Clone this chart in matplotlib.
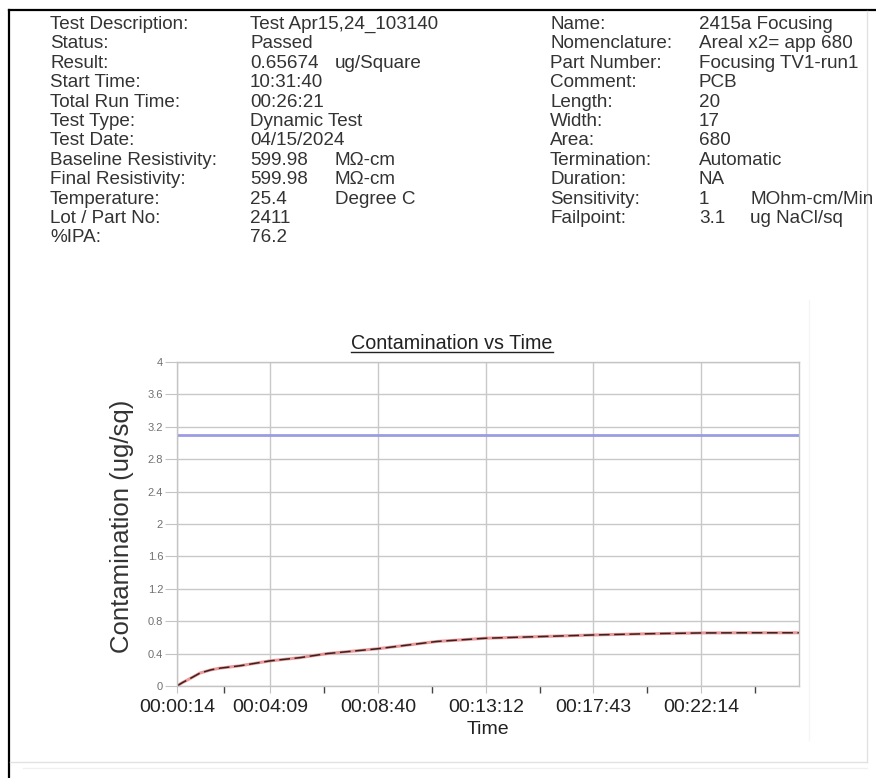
import matplotlib
matplotlib.use("Agg")
import matplotlib.pyplot as plt
from matplotlib.lines import Line2D

plt.rcParams['font.family'] = ['Liberation Sans', 'DejaVu Sans']

# ---------------- data ----------------
left_labels = ["Test Description:", "Status:", "Result:", "Start Time:", "Total Run Time:",
               "Test Type:", "Test Date:", "Baseline Resistivity:", "Final Resistivity:",
               "Temperature:", "Lot / Part No:", "%IPA:"]
left_values = ["Test Apr15,24_103140", "Passed", "0.65674", "10:31:40", "00:26:21",
               "Dynamic Test", "04/15/2024", "599.98", "599.98", "25.4", "2411", "76.2"]
left_units = ["", "", "ug/Square", "", "", "", "", "M\u03a9-cm", "M\u03a9-cm", "Degree C", "", ""]

right_labels = ["Name:", "Nomenclature:", "Part Number:", "Comment:", "Length:", "Width:",
                "Area:", "Termination:", "Duration:", "Sensitivity:", "Failpoint:"]
right_values = ["2415a Focusing", "Areal x2= app 680", "Focusing TV1-run1", "PCB", "20", "17",
                "680", "Automatic", "NA", "1", "3.1"]
right_units = ["", "", "", "", "", "", "", "", "", "MOhm-cm/Min", "ug NaCl/sq"]

time_s = [14, 27, 50, 72, 100, 122, 173, 248, 324, 392, 520, 669, 792, 928, 1063, 1200, 1334, 1450, 1581]
contam = [0.0, 0.04, 0.10, 0.16, 0.20, 0.22, 0.25, 0.31, 0.35, 0.40, 0.46, 0.55, 0.59, 0.61, 0.63, 0.645, 0.655, 0.657, 0.657]
failpoint = 3.1

x_major = [14, 249, 520, 792, 1063, 1334]
x_major_labels = ["00:00:14", "00:04:09", "00:08:40", "00:13:12", "00:17:43", "00:22:14"]
x_minor = [132, 385, 656, 928, 1199, 1470]
x_range = [14, 1581]
y_ticks = [0, 0.4, 0.8, 1.2, 1.6, 2, 2.4, 2.8, 3.2, 3.6, 4]
y_tick_labels = ["0", "0.4", "0.8", "1.2", "1.6", "2", "2.4", "2.8", "3.2", "3.6", "4"]

# ---------------- figure ----------------
W, H = 876, 778
fig = plt.figure(figsize=(W / 100, H / 100), dpi=100)
fig.patch.set_facecolor('white')

def fx(x):
    return x / W

def fy(y):
    return 1 - y / H

# frame
fig.add_artist(Line2D([fx(9), fx(9)], [fy(10), fy(790)], color='black', lw=1.6))
fig.add_artist(Line2D([fx(9), fx(890)], [fy(10), fy(10)], color='black', lw=1.6))
fig.add_artist(Line2D([fx(867), fx(867)], [fy(11), fy(762)], color='#e2e2e2', lw=1))
fig.add_artist(Line2D([fx(10), fx(867)], [fy(762), fy(762)], color='#e2e2e2', lw=1))
fig.add_artist(Line2D([fx(23), fx(867)], [fy(768), fy(768)], color='#f0f0f0', lw=1))
fig.add_artist(Line2D([fx(809), fx(809)], [fy(300), fy(740)], color='#f5f5f5', lw=1))

# header
hdr_size = 13.6
hdr_color = '#333333'
base0 = 29
step = 19.4
for i, (lab, val, unit) in enumerate(zip(left_labels, left_values, left_units)):
    yb = fy(base0 + i * step)
    fig.text(fx(50), yb, lab, fontsize=hdr_size, color=hdr_color, va='baseline')
    fig.text(fx(250), yb, val, fontsize=hdr_size, color=hdr_color, va='baseline')
    if unit:
        fig.text(fx(335), yb, unit, fontsize=hdr_size, color=hdr_color, va='baseline')
for i, (lab, val, unit) in enumerate(zip(right_labels, right_values, right_units)):
    yb = fy(base0 + i * step)
    fig.text(fx(550), yb, lab, fontsize=hdr_size, color=hdr_color, va='baseline')
    fig.text(fx(699), yb, val, fontsize=hdr_size, color=hdr_color, va='baseline')
    if unit:
        fig.text(fx(750), yb, unit, fontsize=hdr_size, color=hdr_color, va='baseline')

# axes
ax = fig.add_axes([fx(177), 92 / H, 622 / W, 324 / H])
ax.set_xlim(*x_range)
ax.set_ylim(0, 4)
for s in ax.spines.values():
    s.set_color('#c4c4c4')
    s.set_linewidth(1)
ax.set_xticks(x_major)
ax.set_xticklabels(x_major_labels)
ax.set_xticks(x_minor, minor=True)
ax.set_yticks(y_ticks)
ax.set_yticklabels(y_tick_labels)
ax.grid(True, which='major', color='#c8c8c8', lw=1)
ax.tick_params(axis='y', length=9, color='#c4c4c4', labelsize=8, labelcolor='#707070', pad=1)
ax.tick_params(axis='x', which='major', length=5, color='#c4c4c4', labelsize=14,
               labelcolor='#222222', pad=4)
ax.tick_params(axis='x', which='minor', length=5, color='#444444', width=1)
ax.set_axisbelow(True)

ax.axhline(failpoint, color='#9c9ce2', lw=2)
ax.plot(time_s, contam, color='#e88080', lw=2.2, alpha=0.8)
ax.plot(time_s, contam, color='#3a2020', lw=1.1, dashes=(7, 3))

ax.set_xlabel("Time", fontsize=14, color='#222222', labelpad=4)

fig.text(fx(122), fy(526), "Contamination (ug/sq)", rotation=90, fontsize=18.5,
         color='#333333', ha='center', va='center')

# title with underline
t = fig.text(fx(452), fy(349), "Contamination vs Time", fontsize=14.2, color='#222222',
             ha='center', va='baseline')
fig.canvas.draw()
bb = t.get_window_extent(renderer=fig.canvas.get_renderer())
fig.add_artist(Line2D([bb.x0 / W, bb.x1 / W], [fy(352), fy(352)], color='#222222', lw=1))

fig.savefig("out.png", dpi=100)
